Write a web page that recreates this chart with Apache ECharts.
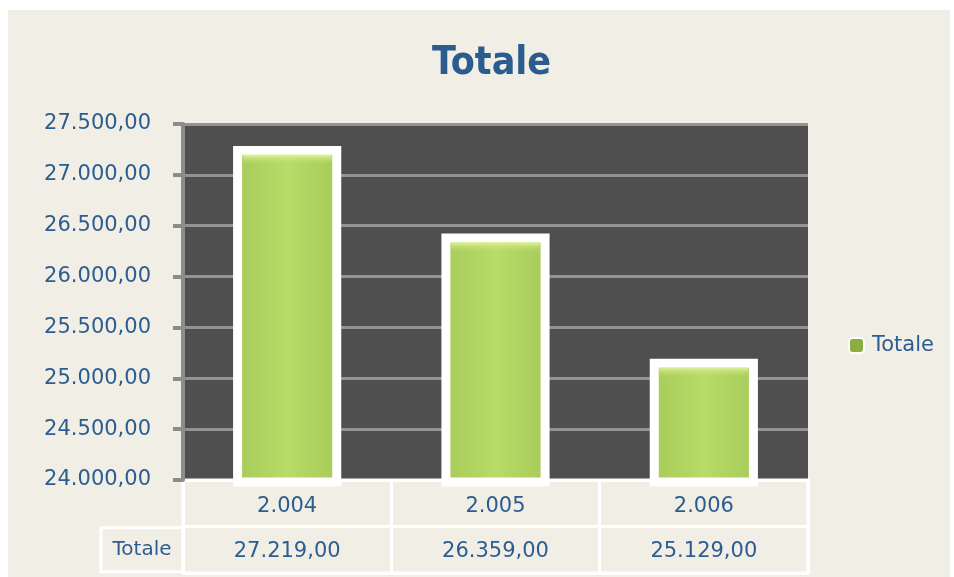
<!DOCTYPE html>
<html>
<head>
<meta charset="utf-8">
<script src="https://cdn.jsdelivr.net/npm/echarts@6/dist/echarts.min.js"></script>
<style>
	html, body { margin: 0; padding: 0; background: #ffffff; }
	#chart { position: absolute; left: 8px; top: 10px; width: 942px; height: 567px; background: #f1eee6; }
</style>
</head>
<body>
<div id="chart"></div>
<script>
const years = [2004, 2005, 2006];
const totals = [27219, 26359, 25129];
const rowNames = ['', 'Totale'];
const yMin = 24000;

const textBlue = '#2c5d91';

// formato italiano: 27.500,00
const fmt = (value, decimals = 2) => {
	const parts = value.toFixed(decimals).split('.');
	const int = parts[0].replace(/\B(?=(\d{3})+(?!\d))/g, '.');
	return decimals ? `${int},${parts[1]}` : int;
};

const barFill = new echarts.graphic.LinearGradient(0, 0, 1, 0, [
	{ offset: 0, color: '#83a13e' },
	{ offset: 0.06, color: '#a8cb5a' },
	{ offset: 0.5, color: '#b8dc68' },
	{ offset: 0.93, color: '#a9cc5a' },
	{ offset: 1, color: '#769339' },
]);
const bevelFill = new echarts.graphic.LinearGradient(0, 0, 0, 1, [
	{ offset: 0, color: '#e2f2a2' },
	{ offset: 1, color: 'rgba(184,220,104,0)' },
]);

// barre con bordo bianco disegnato fuori dal rettangolo (come nell'originale)
const renderBar = (params, api) => {
	const top = api.coord([api.value(0), api.value(1)]);
	const base = api.coord([api.value(0), yMin]);
	const w = api.size([1, 0])[0] * 0.476;
	const x = top[0] - w / 2;
	return {
		type: 'group',
		children: [
			{
				type: 'rect',
				shape: { x: x, y: top[1] - 2, width: w, height: base[1] - top[1] + 4 },
				style: { fill: barFill, stroke: '#ffffff', lineWidth: 9 },
			},
			{
				type: 'rect',
				shape: { x: x + 5, y: top[1] + 2, width: w - 10, height: 10 },
				style: { fill: bevelFill },
			},
		],
	};
};

const chart = echarts.init(document.getElementById('chart'));
chart.setOption({
	textStyle: { fontFamily: 'DejaVu Sans' },
	title: {
		text: 'Totale',
		left: 419,
		top: 29,
		textStyle: {
			color: '#2b5c8e',
			fontSize: 39,
			fontWeight: 'bold',
			fontFamily: 'DejaVu Sans Condensed',
		},
	},
	legend: {
		data: ['Totale'],
		left: 835,
		top: 320,
		itemWidth: 15,
		itemHeight: 15,
		textStyle: { color: textBlue, fontSize: 21, padding: [0, 0, 0, 3] },
		itemStyle: { color: '#8cad42', borderColor: '#ffffff', borderWidth: 2 },
	},
	grid: [
		{
			left: 175, right: 142, top: 114, bottom: 97,
			show: true, backgroundColor: '#4f4f4f', borderWidth: 0,
		},
		{
			left: 175, right: 142, top: 470, height: 93,
			show: true, backgroundColor: 'transparent', borderColor: '#ffffff', borderWidth: 3,
		},
	],
	xAxis: [
		{
			gridIndex: 0,
			type: 'category',
			data: years,
			axisLine: { show: false },
			axisTick: { show: false },
			axisLabel: { show: false },
		},
		{
			gridIndex: 1,
			type: 'category',
			data: years,
			axisLine: { show: false },
			axisTick: { show: false },
			axisLabel: { show: false },
			splitLine: { show: true, lineStyle: { color: '#ffffff', width: 3 } },
		},
	],
	yAxis: [
		{
			gridIndex: 0,
			type: 'value',
			min: yMin,
			max: 27500,
			interval: 500,
			axisLine: { show: true, lineStyle: { color: '#8c8c8c', width: 4 } },
			axisTick: { show: true, length: 10, lineStyle: { color: '#8c8c8c', width: 4 } },
			axisLabel: {
				color: textBlue,
				fontSize: 21,
				margin: 32,
				formatter: (v) => fmt(v),
			},
			splitLine: { show: true, lineStyle: { color: '#939393', width: 3 } },
		},
		{
			gridIndex: 1,
			type: 'category',
			data: rowNames,
			inverse: true,
			axisLine: { show: false },
			axisTick: { show: false },
			splitLine: { show: true, lineStyle: { color: '#ffffff', width: 3 } },
			axisLabel: {
				margin: 0,
				formatter: (v) => v ? `{h|${v}}` : '',
				rich: {
					h: {
						color: textBlue,
						fontSize: 20,
						width: 82,
						height: 44,
						align: 'center',
						borderColor: '#ffffff',
						borderWidth: 3,
					},
				},
			},
		},
	],
	series: [
		{
			name: 'Totale',
			type: 'custom',
			xAxisIndex: 0,
			yAxisIndex: 0,
			renderItem: renderBar,
			clip: false,
			itemStyle: { color: '#8cad42' },
			data: totals.map((t, i) => [i, t]),
			encode: { x: 0, y: 1 },
		},
		{
			// riga degli anni nella tabella
			type: 'scatter',
			xAxisIndex: 1,
			yAxisIndex: 1,
			symbolSize: 0,
			silent: true,
			itemStyle: { opacity: 1 },
			data: years.map((y, i) => [i, 0]),
			label: {
				show: true,
				position: 'inside',
				color: textBlue,
				textBorderWidth: 0,
				fontSize: 21,
				offset: [0, 3],
				formatter: (p) => fmt(years[p.dataIndex], 0),
			},
		},
		{
			// riga dei valori nella tabella
			type: 'scatter',
			xAxisIndex: 1,
			yAxisIndex: 1,
			symbolSize: 0,
			silent: true,
			itemStyle: { opacity: 1 },
			data: totals.map((t, i) => [i, 1]),
			label: {
				show: true,
				position: 'inside',
				color: textBlue,
				textBorderWidth: 0,
				fontSize: 21,
				offset: [0, 2],
				formatter: (p) => fmt(totals[p.dataIndex]),
			},
		},
	],
});
</script>
</body>
</html>
